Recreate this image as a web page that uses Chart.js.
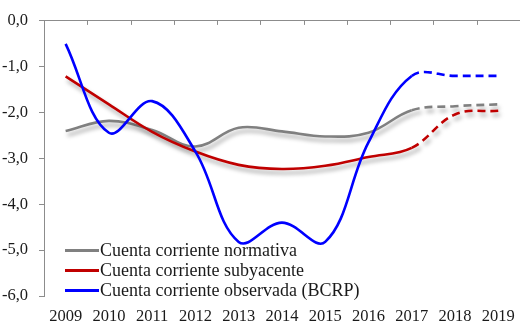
<!DOCTYPE html>
<html>
<head>
<meta charset="utf-8">
<script src="https://cdn.jsdelivr.net/npm/chart.js@4/dist/chart.umd.min.js"></script>
<style>
  html, body { margin: 0; padding: 0; background: #fff; overflow: hidden; }
  #wrap { position: relative; width: 526px; height: 327px; }
  #legend { position: absolute; left: 65px; top: 240px; font-family: "Liberation Serif", serif; font-size: 18px; color: #1a1a1a; }
  #legend .row { display: flex; align-items: center; height: 20px; }
  #legend .swatch { width: 34px; height: 0; border-top: 3px solid; margin-right: 1px; }
</style>
</head>
<body>
<div id="wrap">
  <canvas id="c" width="526" height="327"></canvas>
  <div id="legend"></div>
</div>
<script>
// Years on the category axis
const years = ['2009', '2010', '2011', '2012', '2013', '2014', '2015', '2016', '2017', '2018', '2019'];

// Current account balance, % of GDP
const normativa  = [-2.40, -2.18, -2.38, -2.74, -2.33, -2.41, -2.52, -2.44, -1.95, -1.86, -1.82];
const subyacente = [-1.21, -1.82, -2.42, -2.85, -3.14, -3.23, -3.16, -2.97, -2.77, -2.04, -1.96];
const observada  = [-0.50, -2.44, -1.75, -2.85, -4.82, -4.40, -4.82, -2.65, -1.20, -1.20, -1.20];

// Y axis tick values
const yTicks = [0, -1, -2, -3, -4, -5, -6];

const seriesNames = [
  'Cuenta corriente normativa',
  'Cuenta corriente subyacente',
  'Cuenta corriente observada (BCRP)'
];
const seriesColors = ['#808080', '#c00000', '#0000ff'];

// Projection years (from 2017 on) are drawn dashed
const firstProjected = years.indexOf('2017');
const dashed = ctx => ctx.p0DataIndex >= firstProjected ? [8, 5] : undefined;

const axisGray = '#8c8c8c';
const serif = '"Liberation Serif", serif';

// Soft drop shadow under the flagged lines
const shadowPlugin = {
  id: 'lineShadow',
  beforeDatasetDraw(chart, args) {
    const ds = chart.data.datasets[args.index];
    const ctx = chart.ctx;
    ctx.save();
    if (ds.shadow) {
      ctx.shadowColor = 'rgba(0,0,0,0.35)';
      ctx.shadowBlur = 4;
      ctx.shadowOffsetX = 2;
      ctx.shadowOffsetY = 4;
    }
  },
  afterDatasetDraw(chart) {
    chart.ctx.restore();
  }
};

// Short inward tick marks on the top axis, between categories
const topTicksPlugin = {
  id: 'topTicks',
  afterDraw(chart) {
    const s = chart.scales.x;
    const top = chart.chartArea.top;
    const ctx = chart.ctx;
    ctx.save();
    ctx.strokeStyle = axisGray;
    ctx.lineWidth = 1;
    ctx.beginPath();
    for (let i = 1; i < years.length; i++) {
      const x = Math.round((s.getPixelForValue(i - 1) + s.getPixelForValue(i)) / 2) + 0.5;
      ctx.moveTo(x, top);
      ctx.lineTo(x, top + 4);
    }
    ctx.stroke();
    ctx.restore();
  }
};

const makeSet = (i, data, order, shadow) => ({
  label: seriesNames[i],
  data: data,
  borderColor: seriesColors[i],
  backgroundColor: seriesColors[i],
  borderWidth: 2.6,
  pointRadius: 0,
  tension: 0.38,
  fill: false,
  order: order,
  shadow: shadow,
  segment: { borderDash: dashed }
});

new Chart(document.getElementById('c'), {
  type: 'line',
  data: {
    labels: years,
    datasets: [
      makeSet(0, normativa, 3, true),
      makeSet(1, subyacente, 2, true),
      makeSet(2, observada, 1, false)
    ]
  },
  plugins: [shadowPlugin, topTicksPlugin],
  options: {
    responsive: false,
    animation: false,
    layout: { padding: { top: 12, right: 0, bottom: 0, left: 0 } },
    plugins: { legend: { display: false }, tooltip: { enabled: false } },
    scales: {
      x: {
        type: 'category',
        position: 'bottom',
        offset: true,
        grid: { display: false, drawTicks: false },
        border: { display: false },
        ticks: { color: '#1a1a1a', font: { family: serif, size: 16.5 }, padding: 11, maxRotation: 0, autoSkip: false },
        afterFit(s) { s.height = 31; }
      },
      xTop: {
        type: 'category',
        position: 'top',
        labels: years,
        offset: true,
        grid: { display: false, drawTicks: false },
        border: { display: true, color: axisGray, width: 1 },
        ticks: { display: false },
        afterFit(s) { s.height = 0; }
      },
      y: {
        min: -6,
        max: 0,
        afterBuildTicks(s) { s.ticks = yTicks.map(v => ({ value: v })); },
        grid: { display: true, drawOnChartArea: false, drawTicks: true, tickLength: 5, color: axisGray },
        border: { display: true, color: axisGray, width: 1 },
        ticks: {
          color: '#1a1a1a',
          font: { family: serif, size: 16.5 },
          padding: 11,
          callback: v => v.toFixed(1).replace('.', ',')
        },
        afterFit(s) { s.width = 44; }
      }
    }
  }
});

// Legend, listed in series order
const legend = document.getElementById('legend');
seriesNames.forEach((name, i) => {
  const row = document.createElement('div');
  row.className = 'row';
  const sw = document.createElement('span');
  sw.className = 'swatch';
  sw.style.borderColor = seriesColors[i];
  const tx = document.createElement('span');
  tx.textContent = name;
  row.appendChild(sw);
  row.appendChild(tx);
  legend.appendChild(row);
});
</script>
</body>
</html>
